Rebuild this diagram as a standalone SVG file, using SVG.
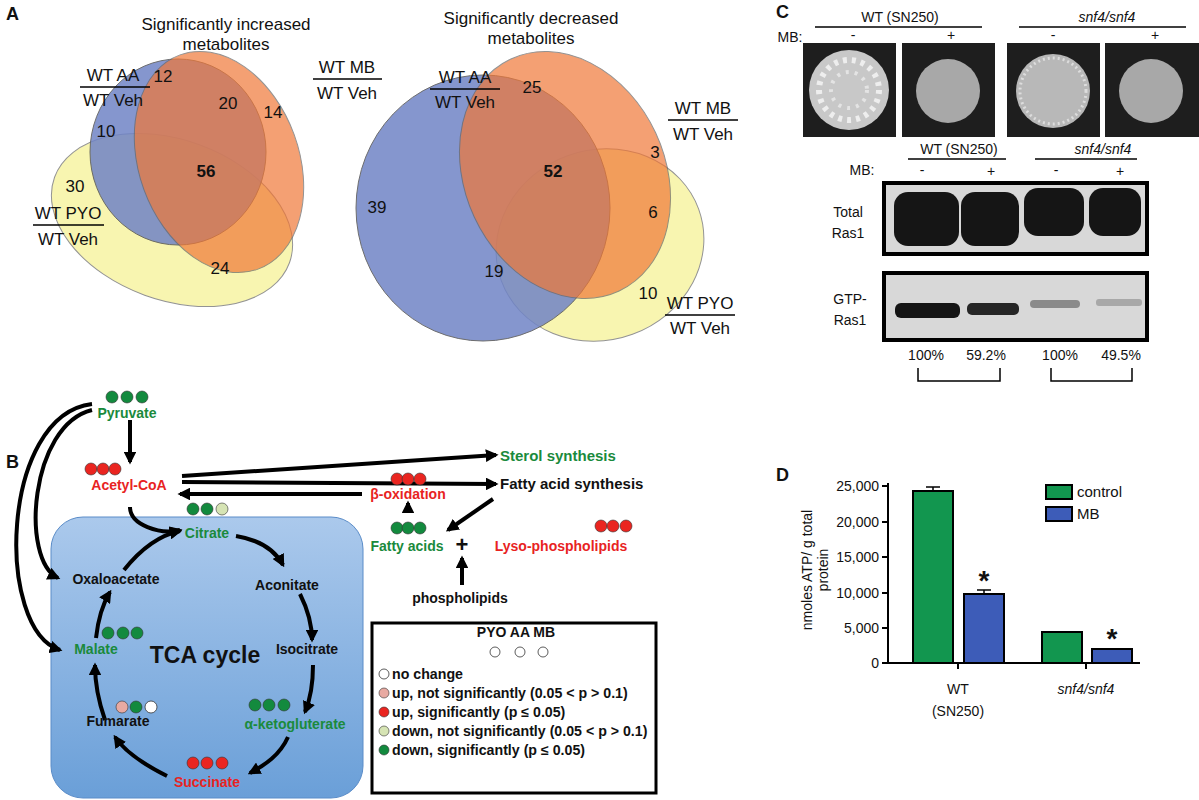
<svg xmlns="http://www.w3.org/2000/svg" width="1199" height="800" viewBox="0 0 1199 800">
<style>
text{font-family:"Liberation Sans",Arial,sans-serif;fill:#111}
.p{font-size:18px;font-weight:bold}
.n{font-size:17px;text-anchor:middle}
.b{font-weight:bold;font-size:14px;text-anchor:middle}
.g{fill:#1a8a3c}.r{fill:#e8231f}
.ar{fill:none;stroke:#000;stroke-width:4;marker-end:url(#ah)}
.t{font-size:14px;text-anchor:middle}
.lg{font-size:15px;font-weight:bold}
.li{font-size:14.2px;font-weight:bold}
.dg{fill:#138a3e;stroke:#333;stroke-width:.6}
.dr{fill:#ea2520;stroke:#333;stroke-width:.6}
.dp{fill:#e8aaa2;stroke:#333;stroke-width:.6}
.dl{fill:#d6e4b4;stroke:#333;stroke-width:.6}
.dw{fill:#fff;stroke:#333;stroke-width:.8}
.yel{fill:#f8f4a8;stroke:#888;stroke-width:1;opacity:.9}
.blu{fill:#7084c6;stroke:#555;stroke-width:1;opacity:.85}
.org{fill:#f07838;stroke:#666;stroke-width:1;opacity:.7}
</style>
<defs>
<marker id="ah" viewBox="0 0 10 10" refX="8" refY="5" markerWidth="3.2" markerHeight="3.2" orient="auto"><path d="M0,0 L10,5 L0,10 z" fill="#000"/></marker>
<linearGradient id="tca" x1="0" y1="0" x2="0" y2="1"><stop offset="0" stop-color="#abc9ec"/><stop offset="1" stop-color="#6a9fd8"/></linearGradient>
</defs>
<rect width="1199" height="800" fill="#fff"/>
<text class="p" x="6" y="20">A</text><text class="p" x="6" y="468">B</text><text class="p" x="776" y="18">C</text><text class="p" x="776" y="481">D</text>
<g id="vennA1">
<ellipse class="yel" cx="172" cy="220" rx="125" ry="80" transform="rotate(20 172 220)"/>
<ellipse class="blu" cx="178" cy="152" rx="88" ry="93"/>
<ellipse class="org" cx="219" cy="162" rx="80" ry="114" transform="rotate(-20 219 162)"/>
<text class="n" x="226" y="30">Significantly increased</text><text class="n" x="226" y="50">metabolites</text>
<text class="n" x="113" y="81">WT AA</text><line x1="80" y1="87" x2="150" y2="87" stroke="#000" stroke-width="1.5"/><text class="n" x="113" y="106">WT Veh</text>
<text class="n" x="347" y="73">WT MB</text><line x1="313" y1="79" x2="382" y2="79" stroke="#000" stroke-width="1.5"/><text class="n" x="347" y="99">WT Veh</text>
<text class="n" x="68" y="219">WT PYO</text><line x1="33" y1="225" x2="104" y2="225" stroke="#000" stroke-width="1.5"/><text class="n" x="68" y="245">WT Veh</text>
<text class="n" x="163" y="82">12</text><text class="n" x="228" y="109">20</text><text class="n" x="273" y="118">14</text><text class="n" x="106" y="137">10</text>
<text class="n" x="206" y="177" font-weight="bold">56</text><text class="n" x="75" y="192">30</text><text class="n" x="220" y="274">24</text>
</g>
<g id="vennA2">
<ellipse class="yel" cx="600" cy="245" rx="105" ry="95" transform="rotate(-20 600 245)"/>
<ellipse class="blu" cx="483" cy="208" rx="127" ry="133"/>
<ellipse class="org" cx="565" cy="175" rx="100" ry="128" transform="rotate(-25 565 175)"/>
<text class="n" x="531" y="24">Significantly decreased</text><text class="n" x="531" y="44">metabolites</text>
<text class="n" x="465" y="83">WT AA</text><line x1="430" y1="89" x2="500" y2="89" stroke="#000" stroke-width="1.5"/><text class="n" x="465" y="108">WT Veh</text>
<text class="n" x="703" y="114">WT MB</text><line x1="668" y1="120" x2="738" y2="120" stroke="#000" stroke-width="1.5"/><text class="n" x="703" y="140">WT Veh</text>
<text class="n" x="700" y="309">WT PYO</text><line x1="665" y1="315" x2="735" y2="315" stroke="#000" stroke-width="1.5"/><text class="n" x="700" y="334">WT Veh</text>
<text class="n" x="532" y="93">25</text><text class="n" x="655" y="158">3</text><text class="n" x="553" y="177" font-weight="bold">52</text><text class="n" x="377" y="213">39</text>
<text class="n" x="653" y="218">6</text><text class="n" x="494" y="277">19</text><text class="n" x="648" y="299">10</text>
</g>
<g id="panelC">
<text class="t" x="900" y="22" font-size="15">WT (SN250)</text><line x1="815" y1="27" x2="982" y2="27" stroke="#000" stroke-width="1.5"/>
<text class="t" x="1107" y="22" font-size="15" font-style="italic">snf4/snf4</text><line x1="1019" y1="27" x2="1186" y2="27" stroke="#000" stroke-width="1.5"/>
<text class="t" x="790" y="42" font-size="15">MB:</text>
<text class="t" x="853" y="40">-</text><text class="t" x="951" y="40" font-size="16">+</text><text class="t" x="1053" y="40">-</text><text class="t" x="1155" y="40" font-size="16">+</text>
<rect x="803" y="43" width="93" height="94" fill="#1e1e1e"/><rect x="902" y="43" width="93" height="94" fill="#1e1e1e"/>
<rect x="1007" y="43" width="93" height="94" fill="#1e1e1e"/><rect x="1105" y="43" width="94" height="94" fill="#1e1e1e"/>
<circle cx="849" cy="90" r="40" fill="#c8c8c8"/><circle cx="849" cy="90" r="30" fill="none" stroke="#eee" stroke-width="6" stroke-dasharray="4 5"/><circle cx="849" cy="90" r="18" fill="none" stroke="#e4e4e4" stroke-width="4" stroke-dasharray="3 6"/>
<circle cx="948" cy="91" r="32" fill="#a8a8a8"/>
<circle cx="1053" cy="91" r="37" fill="#b8b8b8"/><circle cx="1053" cy="91" r="33" fill="none" stroke="#ddd" stroke-width="3" stroke-dasharray="2 3"/>
<circle cx="1151" cy="91" r="32" fill="#a8a8a8"/>
<text class="t" x="959" y="154" font-size="15">WT (SN250)</text><line x1="908" y1="159" x2="1006" y2="159" stroke="#000" stroke-width="1.5"/>
<text class="t" x="1103" y="154" font-size="15" font-style="italic">snf4/snf4</text><line x1="1035" y1="159" x2="1137" y2="159" stroke="#000" stroke-width="1.5"/>
<text class="t" x="862" y="175" font-size="15">MB:</text>
<text class="t" x="922" y="175">-</text><text class="t" x="991" y="176" font-size="16">+</text><text class="t" x="1056" y="175">-</text><text class="t" x="1120" y="176" font-size="16">+</text>
<rect x="884" y="183" width="263" height="71" fill="#d8d8d8" stroke="#000" stroke-width="4"/>
<rect x="894" y="192" width="65" height="54" rx="14" fill="#151515"/><rect x="961" y="192" width="58" height="54" rx="14" fill="#151515"/>
<rect x="1024" y="188" width="60" height="48" rx="14" fill="#151515"/><rect x="1089" y="188" width="52" height="48" rx="14" fill="#151515"/>
<text class="t" x="848" y="217" font-size="14">Total</text><text class="t" x="848" y="238" font-size="14">Ras1</text>
<rect x="884" y="273" width="263" height="67" fill="#d8d8d8" stroke="#000" stroke-width="4"/>
<rect x="895" y="303" width="65" height="15" rx="6" fill="#151515"/><rect x="967" y="303" width="52" height="12" rx="5" fill="#262626"/>
<rect x="1030" y="300" width="50" height="8" rx="4" fill="#8a8a8a"/><rect x="1096" y="299" width="46" height="7" rx="3" fill="#a8a8a8"/>
<text class="t" x="850" y="304" font-size="14">GTP-</text><text class="t" x="850" y="325" font-size="14">Ras1</text>
<text class="t" x="926" y="360" font-size="14">100%</text><text class="t" x="986" y="360" font-size="14">59.2%</text>
<text class="t" x="1060" y="360" font-size="14">100%</text><text class="t" x="1121" y="360" font-size="14">49.5%</text>
<path d="M918 368 V381 H1000 V368 M1051 368 V381 H1132 V368" fill="none" stroke="#000" stroke-width="1.5"/>
</g>
<g id="panelD">
<path d="M888 483 V663 H1140 M882 486 H888 M882 522 H888 M882 557 H888 M882 593 H888 M882 628 H888 M882 663 H888 M958 663 V669 M1086 663 V669" fill="none" stroke="#000" stroke-width="2"/>
<g font-size="14" text-anchor="end"><text x="879" y="491">25,000</text><text x="879" y="527">20,000</text><text x="879" y="562">15,000</text><text x="879" y="598">10,000</text><text x="879" y="633">5,000</text><text x="879" y="668">0</text></g>
<rect x="913" y="491" width="40" height="172" fill="#12964f" stroke="#000" stroke-width="2"/>
<rect x="964" y="594" width="40" height="69" fill="#3d5cb8" stroke="#000" stroke-width="2"/>
<rect x="1042" y="632" width="40" height="31" fill="#12964f" stroke="#000" stroke-width="2"/>
<rect x="1092" y="649" width="40" height="14" fill="#3d5cb8" stroke="#000" stroke-width="2"/>
<path d="M926 487 H940 M933 487 V491 M977 590 H991 M984 590 V594" stroke="#000" stroke-width="1.5"/>
<text x="984" y="590" font-size="28" font-weight="bold" text-anchor="middle">*</text>
<text x="1112" y="648" font-size="28" font-weight="bold" text-anchor="middle">*</text>
<text class="t" x="958" y="694" font-size="15">WT</text><text class="t" x="958" y="716" font-size="15">(SN250)</text>
<text class="t" x="1086" y="694" font-size="15" font-style="italic">snf4/snf4</text>
<text class="t" font-size="14" transform="translate(812 570) rotate(-90)">nmoles ATP/ g total</text>
<text class="t" font-size="14" transform="translate(828 570) rotate(-90)">protein</text>
<rect x="1046" y="485" width="26" height="14" fill="#12964f" stroke="#000" stroke-width="2"/><text x="1077" y="497" font-size="15">control</text>
<rect x="1046" y="507" width="26" height="14" fill="#3d5cb8" stroke="#000" stroke-width="2"/><text x="1077" y="519" font-size="15">MB</text>
</g>
<g id="tcaBox"><rect x="51" y="517" width="312" height="281" rx="32" fill="url(#tca)" stroke="#5a8cc8"/></g>
<g id="connectors">
<path class="ar" d="M130 420 V462"/>
<path class="ar" d="M92 410 C30 425 20 560 58 578"/>
<path class="ar" d="M92 404 C0 415 -5 630 60 650"/>
<path class="ar" d="M182 476 L496 455"/>
<path class="ar" d="M182 482 L496 484"/>
<path class="ar" d="M362 494 L180 494"/>
<path class="ar" d="M408 513 V503"/>
<path class="ar" d="M493 499 L448 530"/>
<path class="ar" d="M462 585 V558"/>
<path class="ar" d="M130 507 C130 525 160 535 180 530"/>
<path class="ar" d="M124 570 C140 550 160 535 180 531"/>
<path class="ar" d="M236 536 C260 540 275 550 283 565"/>
<path class="ar" d="M300 594 C308 610 312 625 312 640"/>
<path class="ar" d="M313 665 C313 685 310 700 305 712"/>
<path class="ar" d="M288 737 C280 755 265 765 250 773"/>
<path class="ar" d="M167 776 C145 765 125 752 115 737"/>
<path class="ar" d="M105 720 C98 700 95 685 95 665"/>
<path class="ar" d="M96 638 C98 620 102 605 110 592"/>
</g>
<g id="nodes">
<g id="pyruvate"><circle class="dg" cx="112" cy="397" r="6"/><circle class="dg" cx="127" cy="397" r="6"/><circle class="dg" cx="142" cy="397" r="6"/><text class="b g" x="127" y="418">Pyruvate</text></g>
<g id="acetyl"><circle class="dr" cx="91" cy="469" r="6"/><circle class="dr" cx="103" cy="469" r="6"/><circle class="dr" cx="115" cy="469" r="6"/><text class="b r" x="129" y="490" font-size="15">Acetyl-CoA</text></g>
<g id="citrate"><circle class="dg" cx="193" cy="509" r="6"/><circle class="dg" cx="207" cy="509" r="6"/><circle class="dl" cx="222" cy="509" r="6"/><text class="b g" x="207" y="538">Citrate</text></g>
<g id="oxaloacetate"><text class="b" x="116" y="584">Oxaloacetate</text></g>
<g id="aconitate"><text class="b" x="287" y="590">Aconitate</text></g>
<g id="isocitrate"><text class="b" x="307" y="654">Isocitrate</text></g>
<g id="akg"><circle class="dg" cx="255" cy="705" r="6"/><circle class="dg" cx="269" cy="705" r="6"/><circle class="dg" cx="284" cy="705" r="6"/><text class="b g" x="295" y="729">α-ketogluterate</text></g>
<g id="succinate"><circle class="dr" cx="193" cy="763" r="6"/><circle class="dr" cx="207" cy="763" r="6"/><circle class="dr" cx="222" cy="763" r="6"/><text class="b r" x="207" y="787" font-size="15">Succinate</text></g>
<g id="fumarate"><circle class="dp" cx="122" cy="707" r="6"/><circle class="dg" cx="136" cy="707" r="6"/><circle class="dw" cx="151" cy="707" r="6"/><text class="b" x="118" y="726">Fumarate</text></g>
<g id="malate"><circle class="dg" cx="108" cy="633" r="6"/><circle class="dg" cx="123" cy="633" r="6"/><circle class="dg" cx="137" cy="633" r="6"/><text class="b g" x="96" y="654">Malate</text></g>
<text x="205" y="663" font-size="23" font-weight="bold" text-anchor="middle">TCA cycle</text>
<g id="sterol"><text class="lg g" x="500" y="461">Sterol synthesis</text></g>
<g id="fas"><text class="lg" x="500" y="489">Fatty acid synthesis</text></g>
<g id="boxid"><circle class="dr" cx="397" cy="479" r="6"/><circle class="dr" cx="408" cy="479" r="6"/><circle class="dr" cx="420" cy="479" r="6"/><text class="b r" x="408" y="499" font-size="16">β-oxidation</text></g>
<g id="fattyacids"><circle class="dg" cx="397" cy="528" r="6"/><circle class="dg" cx="408" cy="528" r="6"/><circle class="dg" cx="420" cy="528" r="6"/><text class="b g" x="407" y="551" font-size="16">Fatty acids</text></g>
<text x="462" y="552" font-size="22" font-weight="bold" text-anchor="middle">+</text>
<g id="lyso"><circle class="dr" cx="601" cy="526" r="6"/><circle class="dr" cx="613" cy="526" r="6"/><circle class="dr" cx="626" cy="526" r="6"/><text class="b r" x="561" y="551" font-size="16">Lyso-phospholipids</text></g>
<g id="phospho"><text class="b" x="460" y="603" font-size="15">phospholipids</text></g>
<g id="legend">
<rect x="372" y="623" width="284" height="170" fill="#fff" stroke="#000" stroke-width="3"/>
<text class="b" x="516" y="637" font-size="15">PYO AA MB</text>
<circle class="dw" cx="495" cy="652" r="5"/><circle class="dw" cx="520" cy="652" r="5"/><circle class="dw" cx="543" cy="652" r="5"/>
<circle class="dw" cx="384" cy="674" r="5"/><text class="li" x="392" y="679">no change</text>
<circle class="dp" cx="384" cy="693" r="5"/><text class="li" x="392" y="698">up, not significantly (0.05 &lt; p &gt; 0.1)</text>
<circle class="dr" cx="384" cy="712" r="5"/><text class="li" x="392" y="717">up, significantly (p ≤ 0.05)</text>
<circle class="dl" cx="384" cy="731" r="5"/><text class="li" x="392" y="736">down, not significantly (0.05 &lt; p &gt; 0.1)</text>
<circle class="dg" cx="384" cy="750" r="5"/><text class="li" x="392" y="755">down, significantly (p ≤ 0.05)</text>
</g>
</g>
</svg>
